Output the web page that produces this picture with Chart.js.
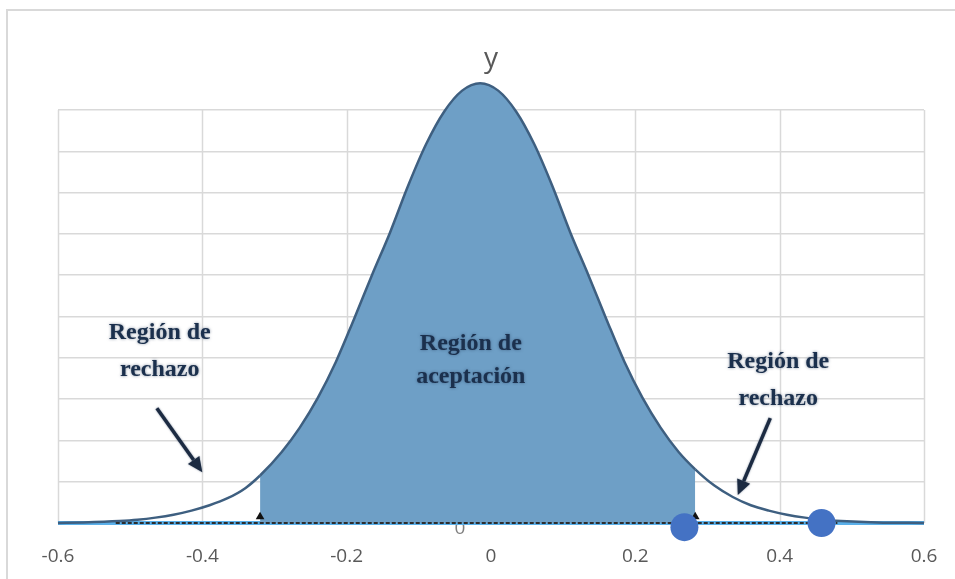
<!DOCTYPE html>
<html>
<head>
<meta charset="utf-8">
<script src="https://cdn.jsdelivr.net/npm/chart.js@4"></script>
<style>
  html, body { margin: 0; padding: 0; background: #fff; }
  #frame { position: absolute; left: 6px; top: 9px; width: 1000px; height: 700px;
           border-left: 2px solid #d9d9d9; border-top: 2px solid #d9d9d9; }
  #wrap { position: absolute; left: 0; top: 0; width: 955px; height: 579px; }
</style>
</head>
<body>
<div id="frame"></div>
<div id="wrap"><canvas id="chart" width="955" height="579"></canvas></div>
<script>
// curva (x, altura en unidades de la rejilla)
const curveX = [-0.6, -0.565, -0.515, -0.49, -0.465, -0.44, -0.415, -0.39, -0.365, -0.34, -0.32,
                -0.29, -0.265, -0.24, -0.215, -0.19, -0.165, -0.14, -0.115, -0.09, -0.065, -0.04,
                -0.015,
                0.01, 0.035, 0.06, 0.085, 0.11, 0.135, 0.16, 0.185, 0.21, 0.235, 0.26, 0.283,
                0.31, 0.335, 0.36, 0.385, 0.41, 0.435, 0.46, 0.485, 0.535, 0.6];
const curveY = [0, 0.015, 0.05, 0.08, 0.13, 0.2, 0.3, 0.43, 0.6, 0.85, 1.15,
                1.72, 2.31, 3.03, 3.9, 4.93, 6.0, 7.03, 8.16, 9.17, 9.96, 10.47,
                10.65,
                10.47, 9.96, 9.17, 8.16, 7.03, 6.0, 4.93, 3.9, 3.03, 2.31, 1.72, 1.3,
                0.9, 0.63, 0.43, 0.3, 0.2, 0.13, 0.08, 0.05, 0.015, 0];

// límites de la región de aceptación
const acceptFrom = -0.32;
const acceptTo = 0.283;

// puntos azules y marcas triangulares
const dotX = [0.268, 0.458];
const dotY = [-0.1, 0];
const markX = [-0.32, 0.283];

// línea base
const baseX = [-0.6, 0.6];
const darkBaseX = [-0.52, 0.48];

const xTickLabels = ['-0.6', '-0.4', '-0.2', '0', '0.2', '0.4', '0.6'];

// anotaciones (posiciones en unidades de datos)
const annoLines = [['Región de', 'rechazo'], ['Región de', 'aceptación'], ['Región de', 'rechazo']];
const annoX = [-0.459, -0.028, 0.398];
const annoY1 = [4.46, 4.19, 3.75];
const annoY2 = [3.56, 3.38, 2.85];
const arrowFrom = [[-0.463, 2.78], [0.387, 2.54]];
const arrowTo = [[-0.40, 1.23], [0.342, 0.68]];

const shadeColor = '#6e9fc6';
const gridColor = '#d9d9d9';

const curvePts = curveX.map((x, i) => ({ x: x, y: curveY[i] }));
const inAccept = c => c.p0.parsed.x >= acceptFrom - 1e-9 && c.p1.parsed.x <= acceptTo + 1e-9;

const annotationPlugin = {
    id: 'anotaciones',
    beforeDatasetsDraw(chart) {
        const ctx = chart.ctx;
        const xs = chart.scales.x;
        const ys = chart.scales.y;
        ctx.save();
        // rejilla vertical solo hasta la última línea horizontal
        ctx.strokeStyle = gridColor;
        ctx.lineWidth = 1.5;
        xs.ticks.forEach(t => {
            const px = Math.round(xs.getPixelForValue(t.value)) + 0.5;
            ctx.beginPath();
            ctx.moveTo(px, ys.getPixelForValue(10));
            ctx.lineTo(px, ys.getPixelForValue(0));
            ctx.stroke();
        });
        // etiqueta "0" medio tapada
        ctx.font = '19px "Open Sans"';
        ctx.fillStyle = '#7f7f7f';
        ctx.textAlign = 'center';
        ctx.textBaseline = 'alphabetic';
        ctx.fillText('0', xs.getPixelForValue(-0.043), ys.getPixelForValue(0) + 11);
        ctx.restore();
    },
    afterDatasetsDraw(chart) {
        const ctx = chart.ctx;
        const xs = chart.scales.x;
        const ys = chart.scales.y;
        const area = chart.chartArea;
        ctx.save();

        // título "y"
        ctx.font = '28px "Open Sans"';
        ctx.fillStyle = '#595959';
        ctx.textAlign = 'center';
        ctx.textBaseline = 'alphabetic';
        ctx.fillText('y', (area.left + area.right) / 2, 67);

        // textos
        ctx.font = 'bold 24px "Liberation Serif"';
        ctx.fillStyle = '#1b304d';
        ctx.shadowColor = 'rgba(30,50,80,0.55)';
        ctx.shadowBlur = 3;
        annoLines.forEach((lines, i) => {
            const px = xs.getPixelForValue(annoX[i]);
            ctx.fillText(lines[0], px, ys.getPixelForValue(annoY1[i]));
            ctx.fillText(lines[1], px, ys.getPixelForValue(annoY2[i]));
        });

        // flechas
        ctx.shadowBlur = 2;
        ctx.strokeStyle = '#1c2b42';
        ctx.fillStyle = '#1c2b42';
        ctx.lineWidth = 3.5;
        arrowFrom.forEach((f, i) => {
            const x1 = xs.getPixelForValue(f[0]), y1 = ys.getPixelForValue(f[1]);
            const x2 = xs.getPixelForValue(arrowTo[i][0]), y2 = ys.getPixelForValue(arrowTo[i][1]);
            const ang = Math.atan2(y2 - y1, x2 - x1);
            const hl = 15, hw = 7;
            const bx = x2 - hl * Math.cos(ang), by = y2 - hl * Math.sin(ang);
            ctx.beginPath();
            ctx.moveTo(x1, y1);
            ctx.lineTo(bx, by);
            ctx.stroke();
            ctx.beginPath();
            ctx.moveTo(x2, y2);
            ctx.lineTo(bx + hw * Math.sin(ang), by - hw * Math.cos(ang));
            ctx.lineTo(bx - hw * Math.sin(ang), by + hw * Math.cos(ang));
            ctx.closePath();
            ctx.fill();
        });
        ctx.restore();
    }
};

new Chart(document.getElementById('chart'), {
    type: 'line',
    data: {
        datasets: [
            {
                data: dotX.map((x, i) => ({ x: x, y: dotY[i] })),
                showLine: false,
                pointRadius: 14,
                pointBackgroundColor: '#4472c4',
                pointBorderWidth: 0,
                clip: false
            },
            {
                data: markX.map(x => ({ x: x, y: 0.15 })),
                showLine: false,
                pointStyle: 'triangle',
                pointRadius: 5,
                pointBackgroundColor: '#111',
                pointBorderWidth: 0,
                clip: false
            },
            {
                data: darkBaseX.map(x => ({ x: x, y: 0 })),
                borderColor: '#2e2e2e',
                borderWidth: 2,
                borderDash: [4, 2],
                pointRadius: 0,
                fill: false,
                clip: false
            },
            {
                data: curvePts,
                borderColor: '#3e5f80',
                borderWidth: 2.5,
                backgroundColor: shadeColor,
                pointRadius: 0,
                cubicInterpolationMode: 'monotone',
                fill: 'origin',
                segment: {
                    backgroundColor: c => inAccept(c) ? shadeColor : 'rgba(0,0,0,0)'
                },
                clip: false
            },
            {
                data: baseX.map(x => ({ x: x, y: 0 })),
                borderColor: '#5ab0ea',
                borderWidth: 4,
                pointRadius: 0,
                fill: false,
                clip: false
            }
        ]
    },
    options: {
        responsive: false,
        animation: false,
        events: [],
        layout: { padding: { left: 58, right: 31, top: 77, bottom: 11 } },
        plugins: {
            legend: { display: false },
            tooltip: { enabled: false },
            title: { display: false }
        },
        scales: {
            x: {
                type: 'linear',
                min: -0.6,
                max: 0.6,
                grid: { display: false },
                border: { display: false },
                afterFit: s => { s.height = 45; },
                ticks: {
                    stepSize: 0.2,
                    padding: 14,
                    color: '#595959',
                    font: { family: '"Open Sans"', size: 19 },
                    callback: (v, i) => xTickLabels[i]
                }
            },
            y: {
                min: 0,
                max: 10.8,
                grid: {
                    color: c => (c.tick && c.tick.value > 10.01) ? 'rgba(0,0,0,0)' : gridColor,
                    lineWidth: 1.5,
                    drawTicks: false
                },
                border: { display: false },
                ticks: { display: false, stepSize: 1 }
            }
        }
    },
    plugins: [annotationPlugin]
});
</script>
</body>
</html>
